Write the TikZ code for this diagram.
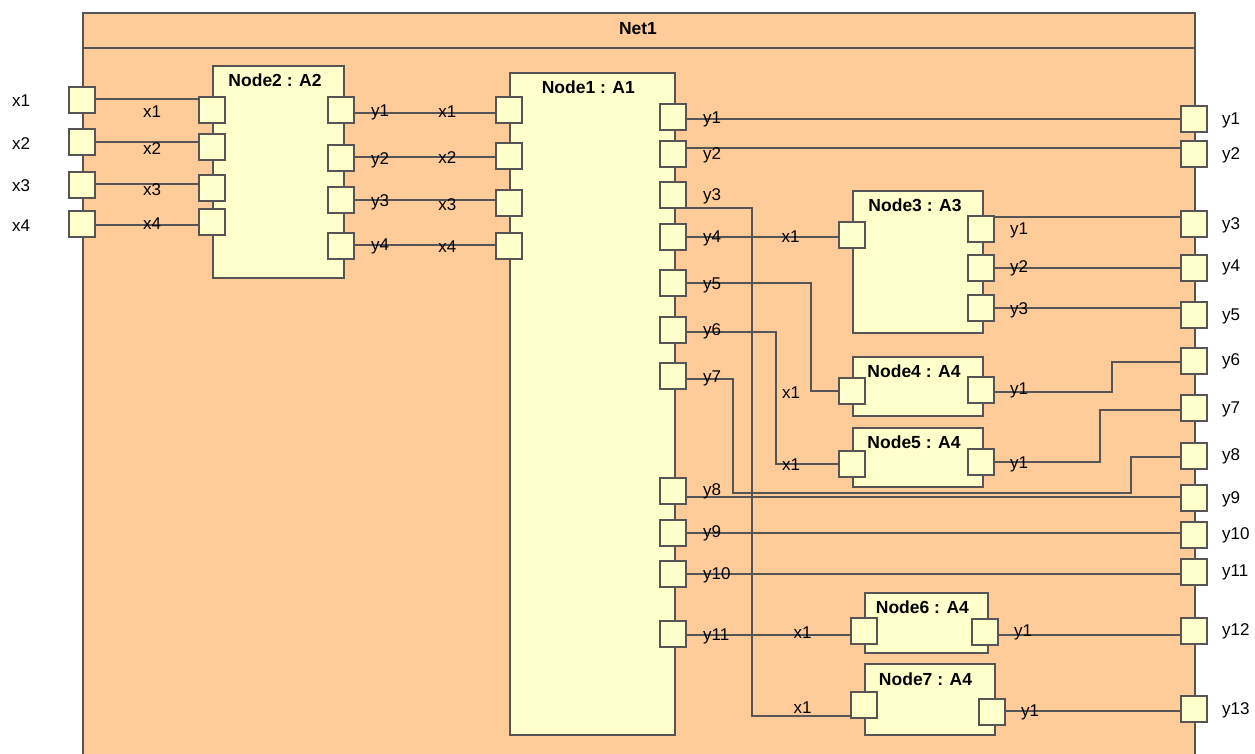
\documentclass[tikz,border=0pt]{standalone}
\usepackage{fontspec}
\setmainfont{Liberation Sans}
\definecolor{peach}{RGB}{255,203,153}
\definecolor{yel}{RGB}{255,255,204}
\definecolor{linec}{RGB}{85,85,85}
\tikzset{
  frame/.style={draw=linec, fill=peach, line width=2pt, inner sep=0pt},
  block/.style={draw=linec, fill=yel, line width=2pt, inner sep=0pt, anchor=north west},
  port/.style={draw=linec, fill=yel, line width=2pt, minimum size=26pt, inner sep=0pt},
  wire/.style={draw=linec, line width=2pt},
  lbl/.style={inner sep=0pt, font=\fontsize{17}{20}\selectfont, text=black},
  lblw/.style={lbl, anchor=west},
  ttl/.style={inner sep=0pt, font=\fontsize{17.5}{20}\selectfont\bfseries, text=black}
}
\begin{document}
\begin{tikzpicture}[x=1pt,y=-1pt]
\useasboundingbox (0,0) rectangle (1255,754);
% frame
\node[frame, anchor=north west, minimum width=1112pt, minimum height=770pt] (net) at (82,12) {};
\draw[wire] (net.west |- 0,48) -- (net.east |- 0,48);
\node[ttl] (nett) at (638,29) {Net1};
% blocks
\node[block, minimum width=131pt, minimum height=212pt] (n2) at (212,65) {};
\node[block, minimum width=165pt, minimum height=662pt] (n1) at (509,72) {};
\node[block, minimum width=130pt, minimum height=142pt] (n3) at (852,190) {};
\node[block, minimum width=130pt, minimum height=59pt] (n4) at (852,356) {};
\node[block, minimum width=130pt, minimum height=59pt] (n5) at (852,427) {};
\node[block, minimum width=123pt, minimum height=60pt] (n6) at (864,592) {};
\node[block, minimum width=130pt, minimum height=71pt] (n7) at (864,663) {};
\node[ttl] (n2t) at (275,80.7) {Node2 : A2};
\node[ttl] (n1t) at (588.3,87.3) {Node1 : A1};
\node[ttl] (n3t) at (915,205.7) {Node3 : A3};
\node[ttl] (n4t) at (914,371.7) {Node4 : A4};
\node[ttl] (n5t) at (914,442.7) {Node5 : A4};
\node[ttl] (n6t) at (922.4,607.7) {Node6 : A4};
\node[ttl] (n7t) at (925.5,679.3) {Node7 : A4};
% ports
\foreach \n/\y in {ox1/100,ox2/142,ox3/185,ox4/224}
  \node[port] (\n) at (82,\y) {};
\foreach \n/\y in {n2x1/110,n2x2/147,n2x3/188,n2x4/222}
  \node[port] (\n) at (212,\y) {};
\foreach \n/\y in {n2y1/110,n2y2/158,n2y3/200,n2y4/246}
  \node[port] (\n) at (341,\y) {};
\foreach \n/\y in {n1x1/110,n1x2/156,n1x3/203,n1x4/246}
  \node[port] (\n) at (509,\y) {};
\foreach \n/\y in {n1y1/117,n1y2/154,n1y3/195,n1y4/237,n1y5/283,n1y6/330,n1y7/376,n1y8/491,n1y9/533,n1y10/574,n1y11/634}
  \node[port] (\n) at (673,\y) {};
\foreach \n/\y in {oy1/119,oy2/154,oy3/224,oy4/268,oy5/315,oy6/361,oy7/408,oy8/456,oy9/498,oy10/535,oy11/572,oy12/631,oy13/709}
  \node[port] (\n) at (1194,\y) {};
\node[port] (n3x1) at (852,235) {};
\foreach \n/\y in {n3y1/229,n3y2/268,n3y3/308}
  \node[port] (\n) at (981,\y) {};
\node[port] (n4x1) at (852,391) {};
\node[port] (n4y1) at (981,390) {};
\node[port] (n5x1) at (852,464) {};
\node[port] (n5y1) at (981,462) {};
\node[port] (n6x1) at (864,631) {};
\node[port] (n6y1) at (985,632) {};
\node[port] (n7x1) at (864,705) {};
\node[port] (n7y1) at (992,712) {};
% wires
\foreach \a/\b/\y in {ox1/n2x1/99,ox2/n2x2/142,ox3/n2x3/184,ox4/n2x4/225,
  n2y1/n1x1/113,n2y2/n1x2/157,n2y3/n1x3/200,n2y4/n1x4/245,
  n1y1/oy1/119,n1y2/oy2/148,n1y4/n3x1/237,n1y8/oy9/497,n1y9/oy10/533,
  n1y10/oy11/574,n1y11/n6x1/635,n3y1/oy3/217,n3y2/oy4/268,n3y3/oy5/308,
  n6y1/oy12/635,n7y1/oy13/711}
  \draw[wire] (\a.east |- 0,\y) -- (\b.west |- 0,\y);
\draw[wire] (n1y3.east |- 0,208) -- (752,208) -- (752,716) -- (n7x1.west |- 0,716);
\draw[wire] (n1y5.east |- 0,283) -- (811,283) -- (811,391) -- (n4x1.west |- 0,391);
\draw[wire] (n1y6.east |- 0,332) -- (776,332) -- (776,464) -- (n5x1.west |- 0,464);
\draw[wire] (n1y7.east |- 0,379) -- (733,379) -- (733,493) -- (1131,493) -- (1131,457) -- (oy8.west |- 0,457);
\draw[wire] (n4y1.east |- 0,392) -- (1112,392) -- (1112,362) -- (oy6.west |- 0,362);
\draw[wire] (n5y1.east |- 0,462) -- (1100,462) -- (1100,410) -- (oy7.west |- 0,410);
% labels
\foreach \t/\y in {x1/100.7,x2/143.7,x3/185.7,x4/225.7}
  \node[lbl] (lo\t) at (21,\y) {\t};
\foreach \t/\y in {x1/111.7,x2/148.3,x3/190,x4/224}
  \node[lbl] (ln2\t) at (152,\y) {\t};
\foreach \t/\y in {y1/112.7,y2/160.3,y3/202,y4/246.7}
  \node[lbl] (ln2\t) at (380,\y) {\t};
\foreach \t/\y in {x1/111.7,x2/157.7,x3/204.7,x4/246.7}
  \node[lbl] (ln1\t) at (447.3,\y) {\t};
\foreach \t/\y in {y1/119.3,y2/155.7,y3/196.7,y4/238.3,y5/285,y6/331.7,y7/378.3,y8/491.7,y9/533.3,y10/575,y11/636}
  \node[lblw] (ln1\t) at (703,\y) {\t};
\node[lbl] (ln3x) at (790.7,236.7) {x1};
\node[lbl] (ln4x) at (791,392.3) {x1};
\node[lbl] (ln5x) at (791,465) {x1};
\node[lbl] (ln6x) at (802.7,632.7) {x1};
\node[lbl] (ln7x) at (802.7,707.7) {x1};
\node[lbl] (ln3a) at (1019,230.7) {y1};
\node[lbl] (ln3b) at (1019,268.3) {y2};
\node[lbl] (ln3c) at (1019,310) {y3};
\node[lbl] (ln4y) at (1019,390) {y1};
\node[lbl] (ln5y) at (1019,464) {y1};
\node[lbl] (ln6y) at (1023,632.7) {y1};
\node[lbl] (ln7y) at (1030,712.7) {y1};
\foreach \t/\y in {y1/120,y2/155,y3/225.3,y4/267.7,y5/316,y6/361.7,y7/409.3,y8/456,y9/499.3,y10/535.7,y11/572.3,y12/631.7,y13/710}
  \node[lblw] (lo\t) at (1222,\y) {\t};
\end{tikzpicture}
\end{document}
